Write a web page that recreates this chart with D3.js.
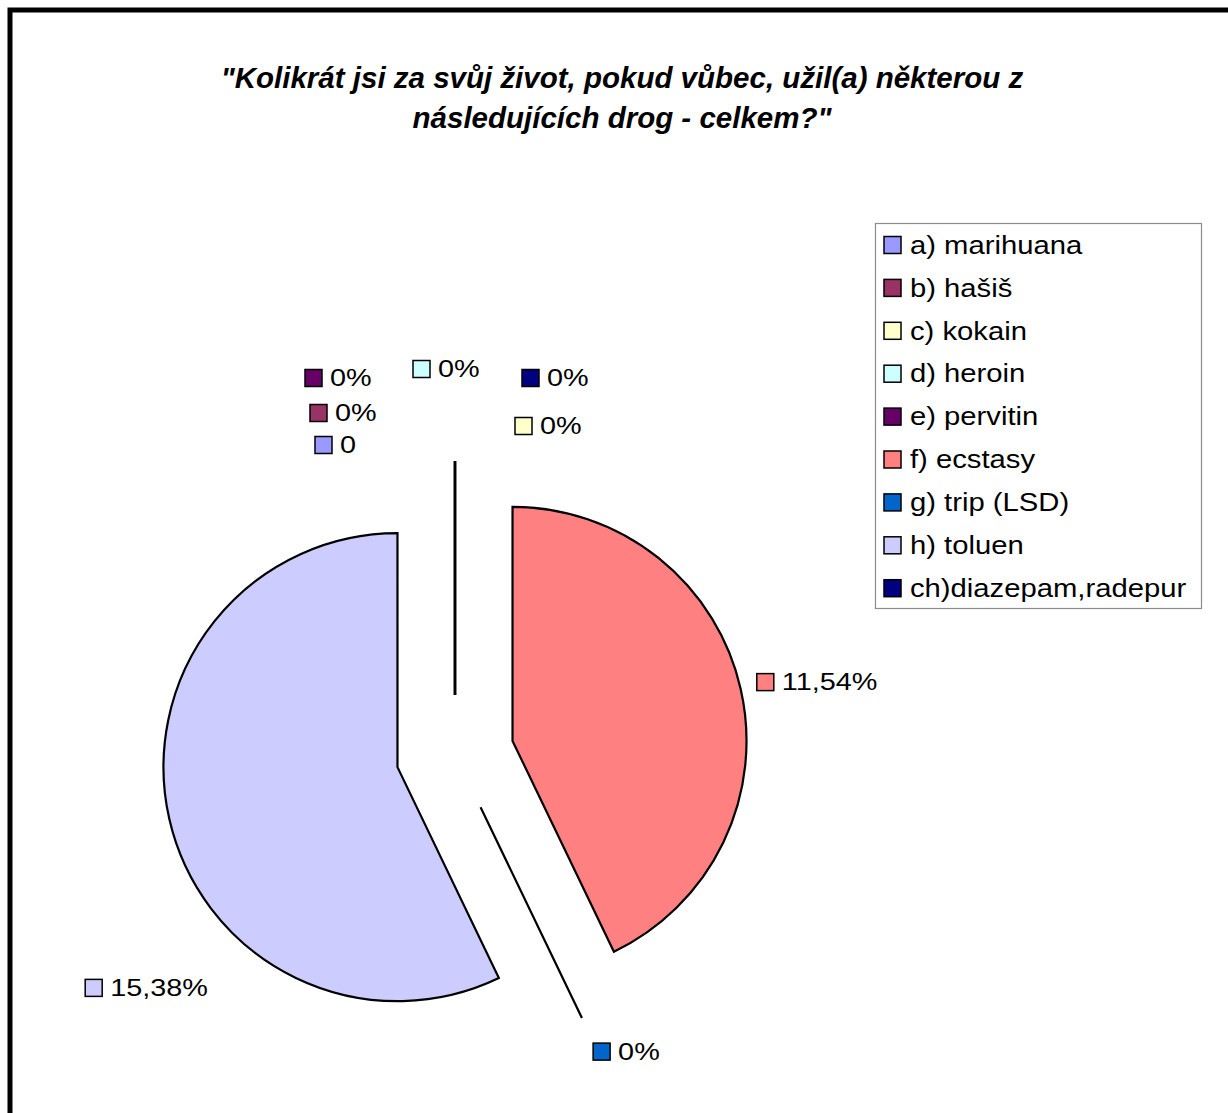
<!DOCTYPE html>
<html>
<head>
<meta charset="utf-8">
<script src="https://cdn.jsdelivr.net/npm/d3@7"></script>
<style>
  html, body { margin: 0; padding: 0; background: #fff; }
  svg { display: block; }
</style>
</head>
<body>
<svg id="chart" width="1228" height="1113"></svg>
<script>
// Survey answers: share of respondents who have used each drug (%)
const categories = [
  "a) marihuana", "b) hašiš", "c) kokain", "d) heroin", "e) pervitin",
  "f) ecstasy", "g) trip (LSD)", "h) toluen", "ch)diazepam,radepur"
];
const values = [0, 0, 0, 0, 0, 11.54, 0, 15.38, 0];
const valueLabels = ["0", "0%", "0%", "0%", "0%", "11,54%", "0%", "15,38%", "0%"];
const colors = [
  "#9999FF", "#993366", "#FFFFCC", "#CCFFFF", "#660066",
  "#FF8080", "#0066CC", "#CCCCFF", "#000080"
];
const titleLines = [
  "\"Kolikrát jsi za svůj život, pokud vůbec, užil(a) některou z",
  "následujících drog - celkem?\""
];

// Layout
const W = 1228, H = 1113;
const cx = 455, cy = 754;          // pie centre
const radius = 234;
const explode = 59;                // every slice is pulled out
const labelRadius = radius + explode + 35;
// label nudges (dx, dy) from the default spot on the label ring, to keep the
// stacked zero labels apart
const labelNudge = [
  [-140, 19], [-145, -13], [60, 0], [-42, -57], [-150, -48],
  [-18, 1], [-4, 2], [-50, 161], [67, -48]
];

const svg = d3.select("#chart");
svg.append("rect").attr("width", W).attr("height", H).attr("fill", "#fff");

// outer frame
svg.append("rect")
  .attr("x", 10).attr("y", 10)
  .attr("width", W + 40).attr("height", H + 40)
  .attr("fill", "none").attr("stroke", "#000").attr("stroke-width", 5);

// title
const title = svg.append("text")
  .attr("x", 622).attr("y", 88)
  .attr("text-anchor", "middle")
  .attr("font-family", "'Liberation Sans', Arial, sans-serif")
  .attr("font-size", 29.5).attr("font-weight", "bold").attr("font-style", "italic")
  .attr("fill", "#000");
titleLines.forEach((t, i) => {
  title.append("tspan").attr("x", 622).attr("dy", i === 0 ? 0 : 40).text(t);
});

// pie
const data = categories.map((c, i) => ({ name: c, value: values[i], color: colors[i], label: valueLabels[i], nudge: labelNudge[i] }));
const pie = d3.pie().sort(null).value(d => d.value).startAngle(0).endAngle(2 * Math.PI);
const arcs = pie(data);
const arc = d3.arc().innerRadius(0).outerRadius(radius);

const midAngle = a => (a.startAngle + a.endAngle) / 2;
const dir = t => [Math.sin(t), -Math.cos(t)];

const pieG = svg.append("g").attr("transform", `translate(${cx},${cy})`);
pieG.selectAll("path.slice")
  .data(arcs)
  .join("path")
  .attr("class", "slice")
  .attr("d", arc)
  .attr("transform", a => {
    const [ux, uy] = dir(midAngle(a));
    return `translate(${ux * explode},${uy * explode})`;
  })
  .attr("fill", a => a.data.color)
  .attr("stroke", "#000")
  .attr("stroke-width", 2.2)
  .attr("stroke-linejoin", "miter");

// data labels: swatch + value text
const labelFont = 24, labelStretch = 1.2, sw = 17;
const labelG = pieG.selectAll("g.lbl")
  .data(arcs)
  .join("g")
  .attr("class", "lbl")
  .attr("transform", a => {
    const [ux, uy] = dir(midAngle(a));
    const x = ux * labelRadius + a.data.nudge[0];
    const y = uy * labelRadius + a.data.nudge[1];
    return `translate(${x},${y})`;
  });
labelG.append("rect")
  .attr("x", 0).attr("y", -sw / 2)
  .attr("width", sw).attr("height", sw)
  .attr("fill", a => a.data.color)
  .attr("stroke", "#000").attr("stroke-width", 1.5);
labelG.append("text")
  .attr("transform", `translate(${sw + 8},0) scale(${labelStretch},1)`)
  .attr("dominant-baseline", "central")
  .attr("font-family", "'Liberation Sans', Arial, sans-serif")
  .attr("font-size", labelFont)
  .attr("fill", "#000")
  .text(a => a.data.label);

// legend
const legX = 875, legY = 223, legW = 326, legH = 385, rowH = 42.9, firstRow = 22;
const legend = svg.append("g");
legend.append("rect")
  .attr("x", legX + 0.5).attr("y", legY + 0.5)
  .attr("width", legW).attr("height", legH)
  .attr("fill", "#fff").attr("stroke", "#8c8c8c").attr("stroke-width", 1.2);
const rows = legend.selectAll("g.row")
  .data(data)
  .join("g")
  .attr("class", "row")
  .attr("transform", (d, i) => `translate(${legX + 9},${legY + firstRow + i * rowH})`);
rows.append("rect")
  .attr("x", 0).attr("y", -sw / 2)
  .attr("width", sw).attr("height", sw)
  .attr("fill", d => d.color)
  .attr("stroke", "#000").attr("stroke-width", 1.5);
rows.append("text")
  .attr("transform", `translate(${sw + 9},0) scale(1.17,1)`)
  .attr("dominant-baseline", "central")
  .attr("font-family", "'Liberation Sans', Arial, sans-serif")
  .attr("font-size", 25)
  .attr("fill", "#000")
  .text(d => d.name);
</script>
</body>
</html>
